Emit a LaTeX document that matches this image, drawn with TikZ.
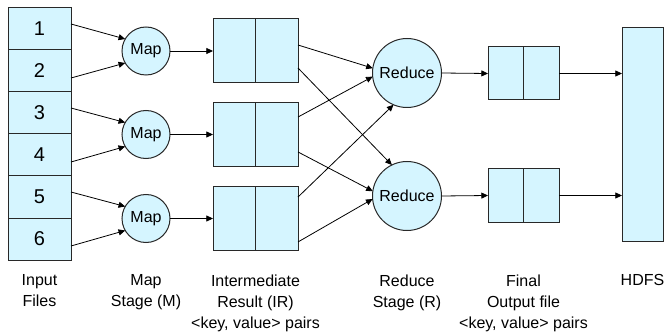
\documentclass[tikz,border=0pt]{standalone}
\usepackage{fontspec}
\setmainfont{Liberation Sans}
\usetikzlibrary{arrows.meta}
\definecolor{boxfill}{RGB}{213,245,255}
\definecolor{boxline}{RGB}{40,40,40}
\begin{document}
\begin{tikzpicture}[x=0.75pt,y=-0.75pt,
  box/.style={draw=boxline,fill=boxfill,line width=0.75pt,inner sep=0pt,outer sep=0pt},
  cell/.style={box,minimum width=47.25pt,minimum height=31.5pt,font=\fontsize{15}{18}\selectfont},
  mapc/.style={box,circle,minimum size=36pt,font=\fontsize{12}{14}\selectfont},
  redc/.style={box,circle,minimum size=51.75pt,font=\fontsize{12}{14}\selectfont},
  irbox/.style={box,minimum width=63.75pt,minimum height=48pt},
  fbox/.style={box,minimum width=53.25pt,minimum height=39.75pt},
  conn/.style={line width=0.6pt,draw=black,-{Triangle[length=5pt,width=4.5pt]}},
  lbl/.style={anchor=north,align=center,inner sep=0pt,font=\fontsize{12}{15.75}\selectfont}]
\useasboundingbox (0,0) rectangle (665,335);
% input files
\node[cell] (in1) at (39.5,29) {1};
\node[cell] (in2) at (39.5,71) {2};
\node[cell] (in3) at (39.5,113) {3};
\node[cell] (in4) at (39.5,155) {4};
\node[cell] (in5) at (39.5,197) {5};
\node[cell] (in6) at (39.5,239) {6};
% map
\node[mapc] (m1) at (146,51) {Map};
\node[mapc] (m2) at (146,134.5) {Map};
\node[mapc] (m3) at (146,218.5) {Map};
% intermediate results
\node[irbox] (ir1) at (255.5,51) {};
\node[irbox] (ir2) at (255.5,134.5) {};
\node[irbox] (ir3) at (255.5,218.5) {};
\foreach \i in {1,2,3} \draw[boxline,line width=0.75pt] (ir\i.north) -- (ir\i.south);
% reduce
\node[redc] (r1) at (407,73) {Reduce};
\node[redc] (r2) at (407,196) {Reduce};
% final output
\node[fbox] (f1) at (523.5,73.5) {};
\node[fbox] (f2) at (523.5,195.5) {};
\foreach \i in {1,2} \draw[boxline,line width=0.75pt] (f\i.north) -- (f\i.south);
% hdfs
\node[box,minimum width=30.75pt,minimum height=159.75pt] (hdfs) at (642.5,134.5) {};
% input -> map
\draw[conn] ([yshift=3.75pt]in1.east) -- (m1.150);
\draw[conn] ([yshift=-5.25pt]in2.east) -- (m1.210);
\draw[conn] ([yshift=3.75pt]in3.east) -- (m2.150);
\draw[conn] ([yshift=-5.25pt]in4.east) -- (m2.210);
\draw[conn] ([yshift=3.75pt]in5.east) -- (m3.150);
\draw[conn] ([yshift=-5.25pt]in6.east) -- (m3.210);
% map -> ir
\draw[conn] (m1.east) -- (ir1.west);
\draw[conn] (m2.east) -- (ir2.west);
\draw[conn] (m3.east) -- (ir3.west);
% ir -> reduce
\draw[conn] ([yshift=4.5pt]ir1.east) -- (r1.172);
\draw[conn] ([yshift=-12.75pt]ir1.east) -- (r2.116);
\draw[conn] ([yshift=13.1pt]ir2.east) -- (r1.186);
\draw[conn] ([yshift=-13.1pt]ir2.east) -- (r2.172);
\draw[conn] ([yshift=16.1pt]ir3.east) -- (r1.247);
\draw[conn] ([yshift=-17.6pt]ir3.east) -- (r2.185);
% reduce -> final
\draw[conn] (r1.east) -- (f1.west);
\draw[conn] (r2.east) -- (f2.west);
% final -> hdfs
\draw[conn] (f1.east) -- (f1.east -| hdfs.west);
\draw[conn] (f2.east) -- (f2.east -| hdfs.west);
% labels
\node[lbl] (l1) at (39.5,274.5) {Input\\Files};
\node[lbl] (l2) at (146,274.5) {Map\\Stage (M)};
\node[lbl] (l3) at (255.5,274.5) {Intermediate\\Result (IR)\\<key, value> pairs};
\node[lbl] (l4) at (407,274.5) {Reduce\\Stage (R)};
\node[lbl] (l5) at (523.5,274.5) {Final\\Output file\\<key, value> pairs};
\node[lbl] (l6) at (642.5,274.5) {HDFS};
\end{tikzpicture}
\end{document}
